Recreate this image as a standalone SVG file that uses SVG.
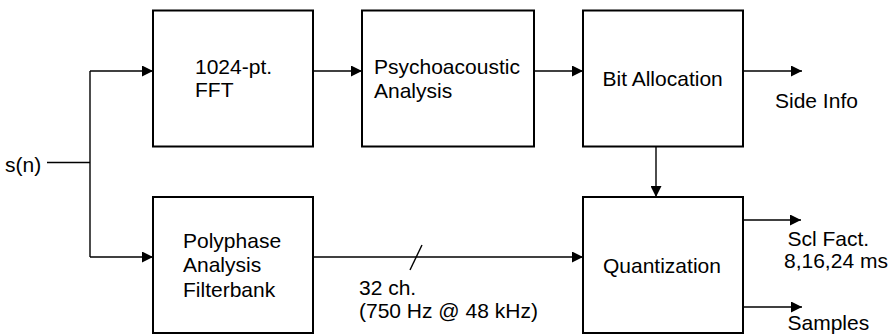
<svg xmlns="http://www.w3.org/2000/svg" width="896" height="336" viewBox="0 0 896 336">
<defs>
<marker id="ah" markerWidth="11" markerHeight="11" refX="11" refY="5.5" orient="auto" markerUnits="userSpaceOnUse">
<path d="M0,0 L11,5.5 L0,11 Z" fill="#000"/>
</marker>
<style>
.box{fill:#fff;stroke:#000;stroke-width:2}
.ln{fill:none;stroke:#000;stroke-width:1.4}
.ar{fill:none;stroke:#000;stroke-width:1.4;marker-end:url(#ah)}
text{font-family:"Liberation Sans",Arial,sans-serif;font-size:21px;fill:#000}
</style>
</defs>
<rect width="896" height="336" fill="#fff"/>
<g id="connectors">
<path class="ln" d="M47,162.5 H90"/>
<path class="ln" d="M90,71 V257"/>
<path class="ar" d="M90,71 H153"/>
<path class="ar" d="M90,257 H153"/>
<path class="ar" d="M313,71 H362"/>
<path class="ar" d="M534,71 H583"/>
<path class="ar" d="M743,71 H802"/>
<path class="ar" d="M656,147 V197"/>
<path class="ar" d="M313,257 H583"/>
<path class="ln" d="M410,270 L422,245"/>
<path class="ar" d="M743,220 H801"/>
<path class="ar" d="M743,307 H802"/>
</g>
<g id="input"><text x="5" y="171.5">s(n)</text></g>
<g id="fft">
<rect class="box" x="153" y="10.5" width="160" height="136"/>
<text x="195" y="74">1024-pt.</text>
<text x="195" y="97">FFT</text>
</g>
<g id="psycho">
<rect class="box" x="362" y="10.5" width="172" height="136"/>
<text x="374" y="74">Psychoacoustic</text>
<text x="374" y="97.5">Analysis</text>
</g>
<g id="bitalloc">
<rect class="box" x="583" y="10.5" width="160" height="136"/>
<text x="602.5" y="86">Bit Allocation</text>
</g>
<g id="polyphase">
<rect class="box" x="153" y="197" width="160" height="136"/>
<text x="183" y="248">Polyphase</text>
<text x="183" y="272">Analysis</text>
<text x="183" y="296.5">Filterbank</text>
</g>
<g id="quant">
<rect class="box" x="583" y="197" width="160" height="136"/>
<text x="603" y="272.5">Quantization</text>
</g>
<g id="labels">
<text x="775" y="108">Side Info</text>
<text x="359" y="295">32 ch.</text>
<text x="359" y="317.5">(750 Hz @ 48 kHz)</text>
<text x="787.5" y="245.5">Scl Fact.</text>
<text x="784" y="268">8,16,24 ms</text>
<text x="787.5" y="330">Samples</text>
</g>
</svg>
